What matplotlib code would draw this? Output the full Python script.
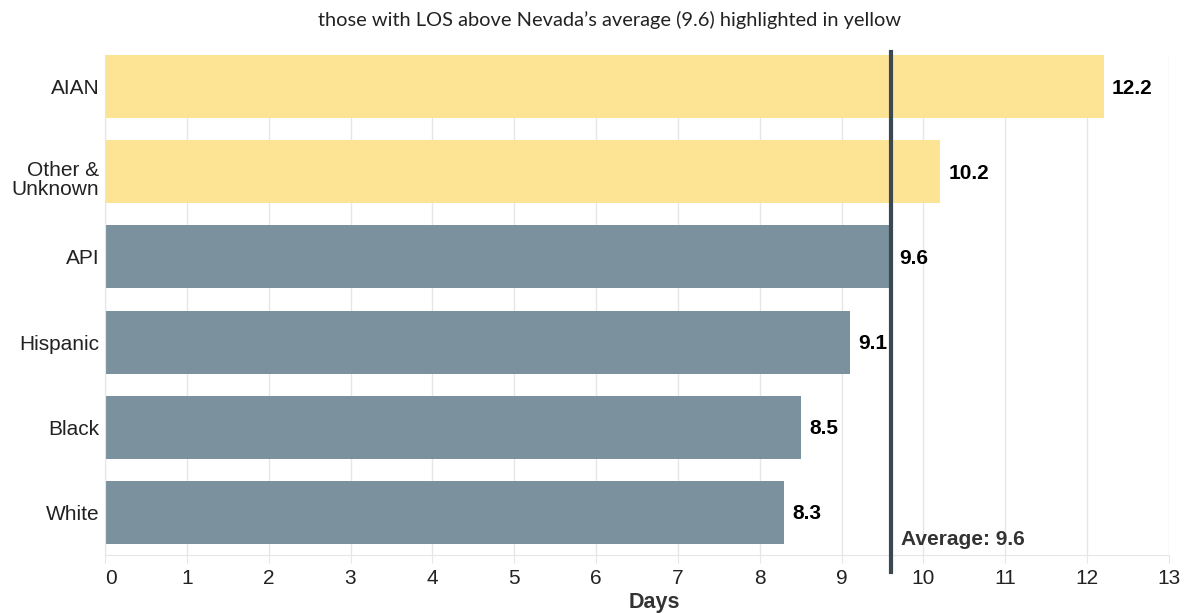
import matplotlib.pyplot as plt
import matplotlib.transforms as mtransforms
import numpy as np

groups = ['AIAN', 'Other &\nUnknown', 'API', 'Hispanic', 'Black', 'White']
los = [12.2, 10.2, 9.6, 9.1, 8.5, 8.3]
nv_avg = 9.6

yellow = '#fde494'
slate = '#7b929e'
line_col = '#3b4850'

plt.rcParams['font.family'] = ['Liberation Sans', 'DejaVu Sans']

fig = plt.figure(figsize=(11.88, 6.13), dpi=100)
ax = fig.add_axes([0.0884, 0.0946, 0.8956, 0.8154])

ypos = np.arange(len(groups))
colors = [yellow if v > nv_avg else slate for v in los]
ax.barh(ypos, los, height=0.74, color=colors, zorder=2)

for y, v in zip(ypos, los):
    ax.annotate(f'{v:.1f}', (v, y), xytext=(6, -1), textcoords='offset points',
                va='center', ha='left', fontsize=15, fontweight='bold', color='black')

ax.axvline(nv_avg, ymin=-0.034, ymax=1.007, color=line_col, lw=3, clip_on=False, zorder=3)
ax.text(nv_avg + 0.12, 5.32, f'Average: {nv_avg}', fontsize=15, fontweight='bold',
        color='#333333', va='center', ha='left')

ax.set_xlim(0, 13)
ax.set_ylim(5.5, -0.37)
ax.set_xticks(range(0, 14))
ax.set_yticks(ypos)
ax.set_yticklabels(groups, linespacing=0.98)
ax.tick_params(axis='y', length=0, pad=4, labelsize=15, labelcolor='#222222')
ax.tick_params(axis='x', length=6, color='#e6e6e6', pad=4, labelsize=15, labelcolor='#222222')
ax.get_xticklabels()[0].set_horizontalalignment('left')
# two-line label sits a bit lower in the original
lbl = ax.get_yticklabels()[1]
lbl.set_transform(lbl.get_transform() + mtransforms.ScaledTranslation(0, -4.5 / 72, fig.dpi_scale_trans))
ax.grid(axis='x', color='#e6e6e6', lw=1, zorder=0)

for s in ['top', 'right']:
    ax.spines[s].set_visible(False)
ax.spines['left'].set_color('#e6e6e6')
ax.spines['bottom'].set_color('#e6e6e6')

ax.set_xlabel('Days', fontsize=15.5, fontweight='bold', color='#333333')
ax.xaxis.set_label_coords(0.516, -0.095)
ax.xaxis.label.set_va('center')
fig.text(0.513, 0.968, 'those with LOS above Nevada\u2019s average (9.6) highlighted in yellow',
         ha='center', va='center', fontsize=14.4, family=['Lato', 'DejaVu Sans'], color='#222222')

fig.savefig('out.png', dpi=100)
